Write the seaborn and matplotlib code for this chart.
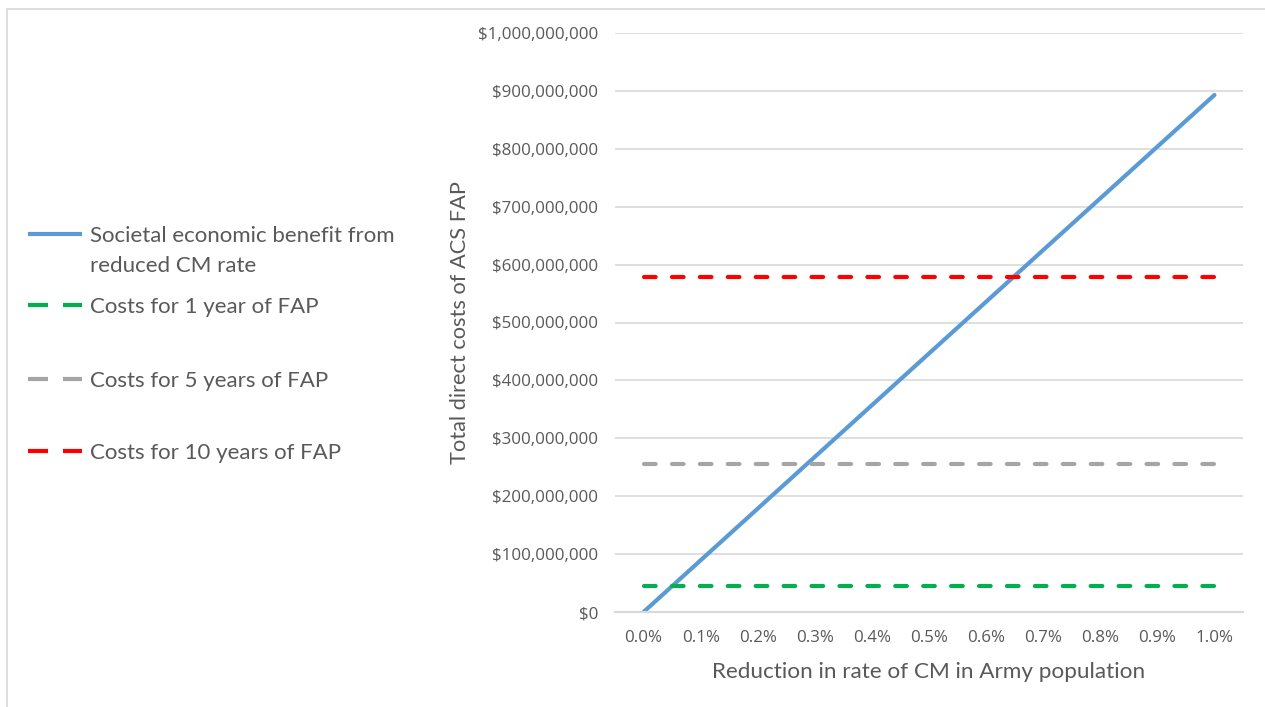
import numpy as np
import pandas as pd
import matplotlib
matplotlib.use("Agg")
import matplotlib.pyplot as plt
from matplotlib.lines import Line2D
from matplotlib.ticker import FuncFormatter
import seaborn as sns

# Reduction in CM rate (category axis)
reduction_labels = ["0.0%", "0.1%", "0.2%", "0.3%", "0.4%", "0.5%",
                    "0.6%", "0.7%", "0.8%", "0.9%", "1.0%"]

# Societal economic benefit at each reduction level (USD)
benefit = [0, 89.3e6, 178.6e6, 267.9e6, 357.2e6, 446.5e6,
           535.8e6, 625.1e6, 714.4e6, 803.7e6, 893.0e6]

# Program cost levels (USD)
cost_1_year = 45e6
cost_5_years = 255e6
cost_10_years = 579e6

series_names = ["Societal economic benefit from reduced CM rate",
                "Costs for 1 year of FAP",
                "Costs for 5 years of FAP",
                "Costs for 10 years of FAP"]

n = len(reduction_labels)
pos = np.arange(n)
df = pd.DataFrame({
    "pos": np.tile(pos, 4),
    "value": benefit + [cost_1_year] * n + [cost_5_years] * n + [cost_10_years] * n,
    "series": np.repeat(series_names, n),
})

colors = ["#5b9bd5", "#00b050", "#a5a5a5", "#ff0000"]
grid_c = "#d9d9d9"
text_c = "#595959"
label_font = ["Lato", "DejaVu Sans"]

sns.set_theme(style="white")
plt.rcParams["font.family"] = ["Open Sans", "DejaVu Sans"]

fig = plt.figure(figsize=(12.65, 7.07), dpi=100)
ax = fig.add_axes([615 / 1265, 1 - 612 / 707, 628 / 1265, 579 / 707])

dash = (2.8, 3.9)
series_lines = {}
for name, col in zip(series_names, colors):
    sub = df[df["series"] == name]
    sns.lineplot(data=sub, x="pos", y="value", ax=ax, color=col, lw=3,
                 legend=False)
    line = ax.lines[-1]
    if name != series_names[0]:
        line.set_dashes(dash)
        line.set_dash_capstyle("round")
    line.set_solid_capstyle("round")
    series_lines[name] = line

ax.set_xlim(-0.5, n - 0.5)
ax.set_ylim(0, 1e9)
ax.set_yticks(np.arange(0, 1.0001e9, 1e8))
ax.yaxis.set_major_formatter(FuncFormatter(lambda v, p: f"${v:,.0f}"))
ax.set_xticks(pos)
ax.set_xticklabels(reduction_labels)
ax.tick_params(axis="both", length=0, labelsize=12.2, colors=text_c)
ax.tick_params(axis="y", pad=12)
ax.tick_params(axis="x", pad=13)
ax.grid(axis="y", color=grid_c, lw=1.2)
ax.set_axisbelow(True)
for s in ["top", "right", "left"]:
    ax.spines[s].set_visible(False)
ax.spines["bottom"].set_color(grid_c)
ax.spines["bottom"].set_linewidth(1.5)

ax.set_xlabel("Reduction in rate of CM in Army population", fontsize=16.2,
              color=text_c, family=label_font)
ax.set_ylabel("Total direct costs of ACS FAP", fontsize=15.7, color=text_c,
              family=label_font)
ax.xaxis.set_label_coords(0.5, (612 - 662) / 579)
ax.yaxis.set_label_coords((470 - 615) / 628, 0.5)


def legend_handle(line):
    h = Line2D([], [], color=line.get_color(), lw=3, solid_capstyle="butt")
    if line.get_linestyle() != "-":
        h.set_dashes((4.8, 3.6))
    return h


legend_kw = dict(loc="center left", frameon=False, handlelength=2.43,
                 handletextpad=0.36, borderaxespad=0.5, borderpad=0.4,
                 prop={"family": label_font, "size": 16})

# First legend entry wraps onto a second line, with the handle on line one
first = series_names[0]
blank = Line2D([], [], alpha=0)
leg = fig.legend([legend_handle(series_lines[first]), blank],
                 ["Societal economic benefit from", "reduced CM rate"],
                 bbox_to_anchor=(8 / 1265, 1 - 251 / 707), labelspacing=0.45,
                 **legend_kw)
for t in leg.get_texts():
    t.set_color(text_c)

for name, y in zip(series_names[1:], [307, 381, 453]):
    leg = fig.legend([legend_handle(series_lines[name])], [name],
                     bbox_to_anchor=(8 / 1265, 1 - y / 707), **legend_kw)
    for t in leg.get_texts():
        t.set_color(text_c)

# Outer border of the chart area
fig.add_artist(Line2D([7 / 1265, 7 / 1265], [0, 1 - 9 / 707],
                      transform=fig.transFigure, color=grid_c, lw=1.2))
fig.add_artist(Line2D([7 / 1265, 1], [1 - 9 / 707, 1 - 9 / 707],
                      transform=fig.transFigure, color=grid_c, lw=1.2))

fig.savefig("out.png", dpi=100, facecolor="white")
